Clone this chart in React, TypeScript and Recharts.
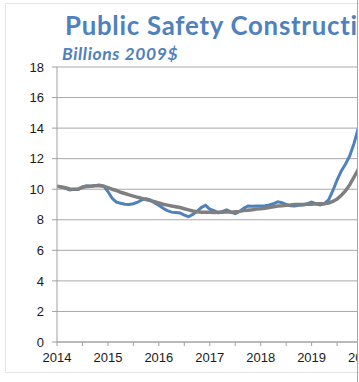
import { CartesianGrid, Line, LineChart, XAxis, YAxis } from 'recharts'

// monthly series, Jan 2014 .. Feb 2020
const startYear = 2014
const actual = [
  10.2, 10.15, 10.05, 9.95, 10.0, 9.98, 10.15, 10.22, 10.2, 10.25, 10.27, 10.2,
  9.85, 9.4, 9.15, 9.08, 9.02, 9.0, 9.05, 9.15, 9.3, 9.38, 9.3, 9.1,
  8.95, 8.75, 8.6, 8.5, 8.48, 8.45, 8.3, 8.2, 8.35, 8.55, 8.8, 8.95,
  8.7, 8.6, 8.45, 8.55, 8.65, 8.5, 8.4, 8.55, 8.75, 8.9, 8.88, 8.9,
  8.9, 8.92, 8.97, 9.05, 9.18, 9.12, 9.0, 8.92, 8.9, 8.95, 8.97, 9.05,
  9.15, 9.05, 8.97, 9.05, 9.3, 9.9, 10.6, 11.2, 11.65, 12.2, 13.0, 14.0,
  15.0, 15.8,
]
const trend = [
  10.2, 10.15, 10.1, 10.02, 10.0, 10.02, 10.12, 10.18, 10.2, 10.22, 10.22, 10.2,
  10.1, 10.0, 9.92, 9.8, 9.72, 9.63, 9.55, 9.47, 9.4, 9.33, 9.25, 9.18,
  9.1, 9.02, 8.96, 8.9, 8.85, 8.8, 8.72, 8.65, 8.58, 8.53, 8.5, 8.5,
  8.5, 8.48, 8.5, 8.5, 8.52, 8.5, 8.52, 8.55, 8.6, 8.63, 8.65, 8.7,
  8.72, 8.75, 8.8, 8.85, 8.9, 8.92, 8.95, 8.97, 9.0, 9.0, 9.0, 9.02,
  9.02, 9.05, 9.05, 9.05, 9.1, 9.2, 9.35, 9.6, 9.9, 10.3, 10.8, 11.3,
  11.8, 12.3,
]
const xTicks = [2014, 2014.5, 2015, 2015.5, 2016, 2016.5, 2017, 2017.5, 2018, 2018.5, 2019, 2019.5, 2020]
const yTicks = [0, 2, 4, 6, 8, 10, 12, 14, 16, 18]

const data = actual.map((v, i) => ({ t: startYear + i / 12, actual: v, trend: trend[i] }))

const tickFont = { fontSize: 13, fill: '#1a1a1a', fontFamily: '"Liberation Sans", Arial, sans-serif' }
const blue = '#4F81BD'

export default function App() {
  return (
    <div style={{ position: 'fixed', left: 0, top: 0, width: 359, height: 382, background: '#fff', overflow: 'hidden' }}>
      <div style={{ position: 'absolute', left: 5, top: 3, width: 380, height: 368, border: '1px solid #e4e4e4' }} />
      <div style={{ position: 'absolute', left: 0, top: 0, width: 357, height: 382, overflow: 'hidden' }}>
        <svg width={420} height={70} style={{ position: 'absolute', left: 0, top: 0 }}>
          <text x={65} y={35} fill={blue} fontSize={25.8} fontWeight={700} letterSpacing={0.75} fontFamily="Lato, sans-serif">
            Public Safety Construction
          </text>
          <text x={62} y={60} fill={blue} fontSize={17.5} fontWeight={700} fontStyle="italic" letterSpacing={0.6} fontFamily="Lato, sans-serif">
            Billions 2009$
          </text>
        </svg>
        <LineChart width={400} height={382} data={data} margin={{ top: 67, right: 12, bottom: 10, left: 0 }}>
          <CartesianGrid horizontal vertical={false} stroke="#a8a8a8" />
          <XAxis
            dataKey="t"
            type="number"
            domain={[2014, 2020.5]}
            ticks={xTicks}
            tickFormatter={(v: number) => (Number.isInteger(v) ? String(v) : '')}
            tick={tickFont}
            tickSize={4}
            tickMargin={7}
            height={30}
            stroke="#a0a0a0"
            allowDataOverflow
          />
          <YAxis
            domain={[0, 18]}
            ticks={yTicks}
            tick={tickFont}
            tickSize={5}
            tickMargin={8}
            width={57}
            stroke="#a0a0a0"
            allowDataOverflow
          />
          <Line dataKey="actual" stroke={blue} strokeWidth={3} dot={false} isAnimationActive={false} />
          <Line dataKey="trend" stroke="#7f7f7f" strokeWidth={3.5} dot={false} isAnimationActive={false} />
        </LineChart>
      </div>
      <div style={{ position: 'absolute', left: 357, top: 0, width: 1, height: 382, background: '#a6a6a6' }} />
    </div>
  )
}
